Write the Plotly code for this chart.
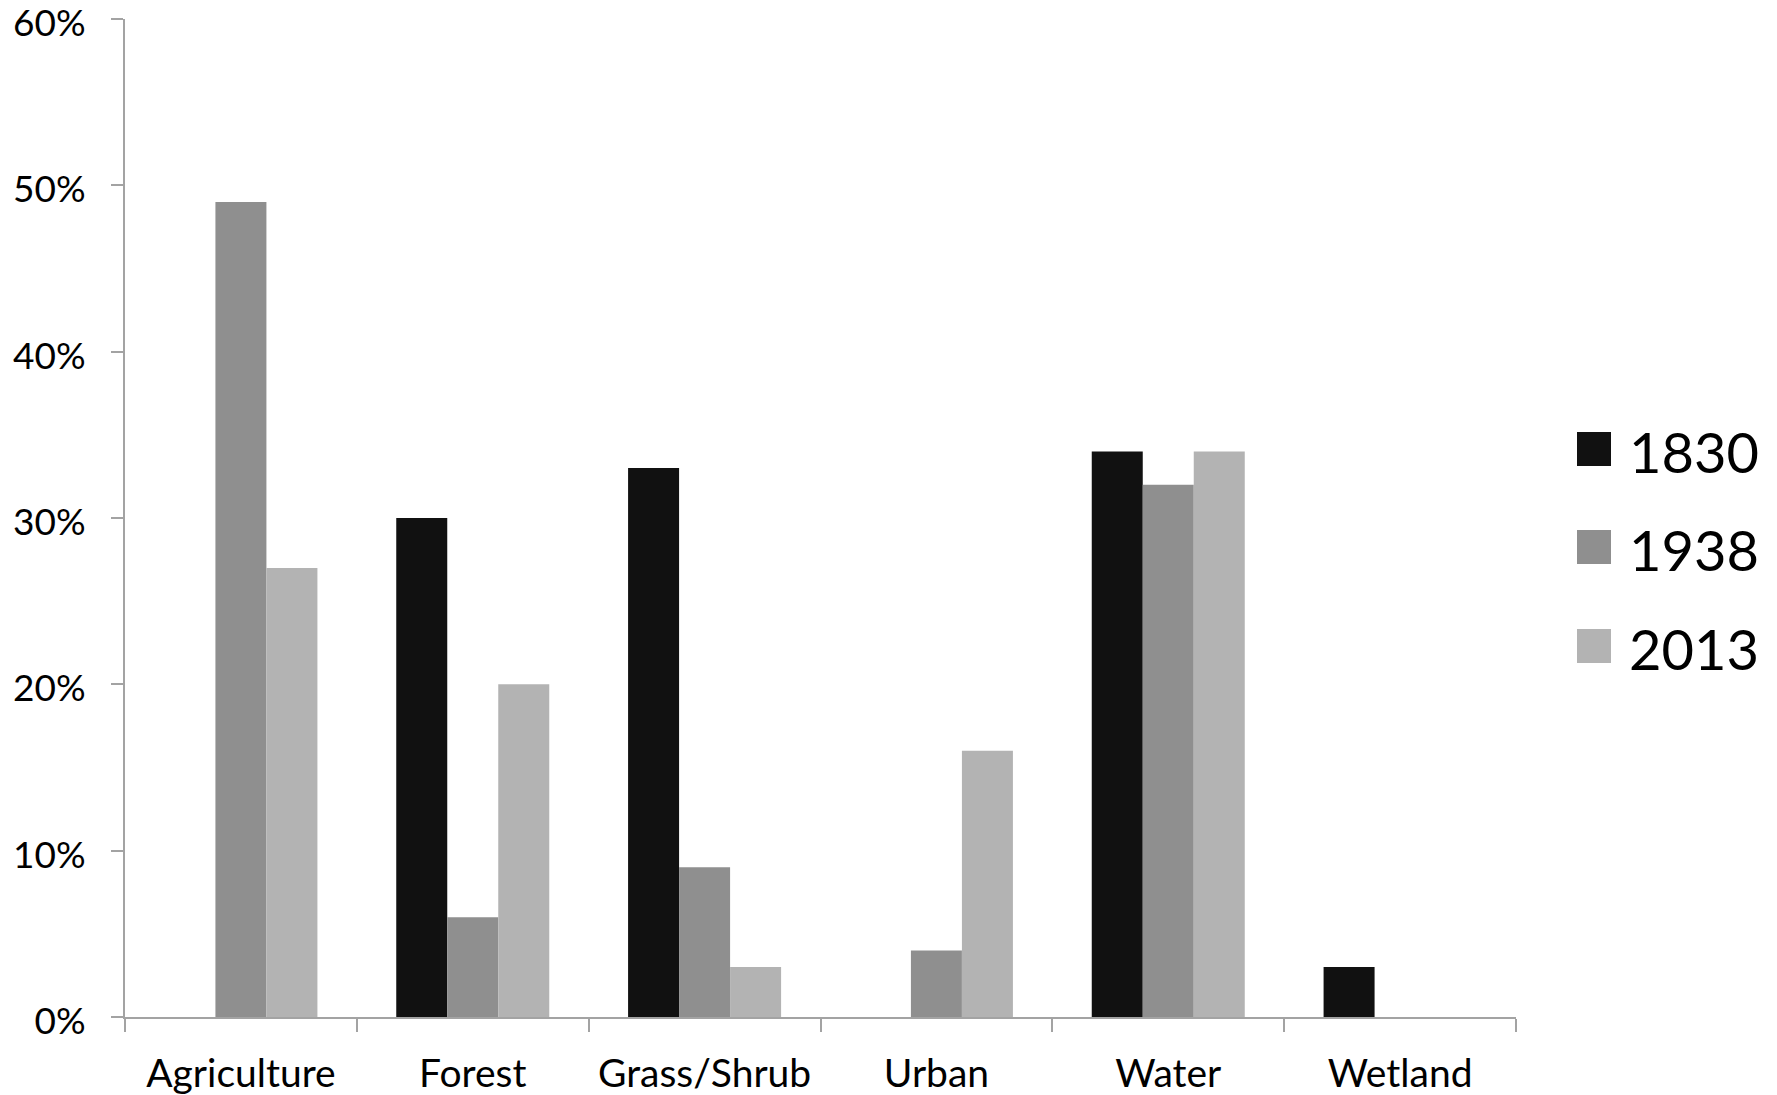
import plotly.graph_objects as go

# ---- data ----
categories = ["Agriculture", "Forest", "Grass/Shrub", "Urban", "Water", "Wetland"]
years = ["1830", "1938", "2013"]
values_1830 = [0, 30, 33, 0, 34, 3]
values_1938 = [49, 6, 9, 4, 32, 0]
values_2013 = [27, 20, 3, 16, 34, 0]
series_values = [values_1830, values_1938, values_2013]
colors = ["#111111", "#8f8f8f", "#b3b3b3"]
y_tick_values = [0, 10, 20, 30, 40, 50, 60]
y_tick_labels = ["0%", "10%", "20%", "30%", "40%", "50%", "60%"]

# ---- layout constants (pixels) ----
W, H = 1777, 1095
ML, MR, MT, MB = 125, 261, 19, 78
PW = W - ML - MR
PH = H - MT - MB
FONT = "Lato"
AXIS_COLOR = "#a3a3a3"


def px_x(x):
    return (x - ML) / PW


def px_y(y):
    return (H - MB - y) / PH


fig = go.Figure()
for name, vals, col in zip(years, series_values, colors):
    fig.add_trace(go.Bar(
        name=name, x=categories, y=vals,
        marker=dict(color=col, line=dict(width=0)),
        showlegend=False,
    ))

# manual legend with large swatches (real text)
sw = 34
legend_rows_y = [449, 547, 646]
shapes = []
annotations = []
for name, col, cy in zip(years, colors, legend_rows_y):
    shapes.append(dict(
        type="rect", xref="paper", yref="paper",
        x0=px_x(1577), x1=px_x(1577 + sw),
        y0=px_y(cy + sw / 2), y1=px_y(cy - sw / 2),
        fillcolor=col, line=dict(width=0),
    ))
    annotations.append(dict(
        text=name, xref="paper", yref="paper",
        x=px_x(1627), y=px_y(cy + 2),
        xanchor="left", yanchor="middle", showarrow=False,
        font=dict(family=FONT, size=56, color="#000000"),
    ))

fig.update_layout(
    width=W, height=H,
    margin=dict(l=ML, r=MR, t=MT, b=MB, pad=0, autoexpand=False),
    paper_bgcolor="white", plot_bgcolor="white",
    barmode="group", bargap=0.34, bargroupgap=0,
    font=dict(family=FONT, size=37, color="#000000"),
    shapes=shapes, annotations=annotations,
    showlegend=False,
)
fig.update_xaxes(
    type="category", showgrid=False, zeroline=False, automargin=False,
    showline=True, linecolor=AXIS_COLOR, linewidth=2,
    ticks="outside", ticklen=13, tickcolor=AXIS_COLOR, tickwidth=2,
    tickson="boundaries", ticklabelstandoff=21, ticklabeloverflow="allow",
    tickfont=dict(family=FONT, size=39, color="#000000"),
)
fig.update_yaxes(
    range=[0, 60], showgrid=False, zeroline=False, automargin=False,
    showline=True, linecolor=AXIS_COLOR, linewidth=2,
    ticks="outside", ticklen=12, tickcolor=AXIS_COLOR, tickwidth=2,
    tickmode="array", tickvals=y_tick_values, ticktext=y_tick_labels,
    ticklabelstandoff=18, ticklabelshift=4, ticklabeloverflow="allow",
    tickfont=dict(family=FONT, size=37, color="#000000"),
)

# remove the browser's default 8px body margin so the figure sits at the page origin
fig.write_html(
    "out.html",
    config={"displayModeBar": False},
    post_script="document.body.style.margin='0';document.body.style.overflow='hidden';",
)
